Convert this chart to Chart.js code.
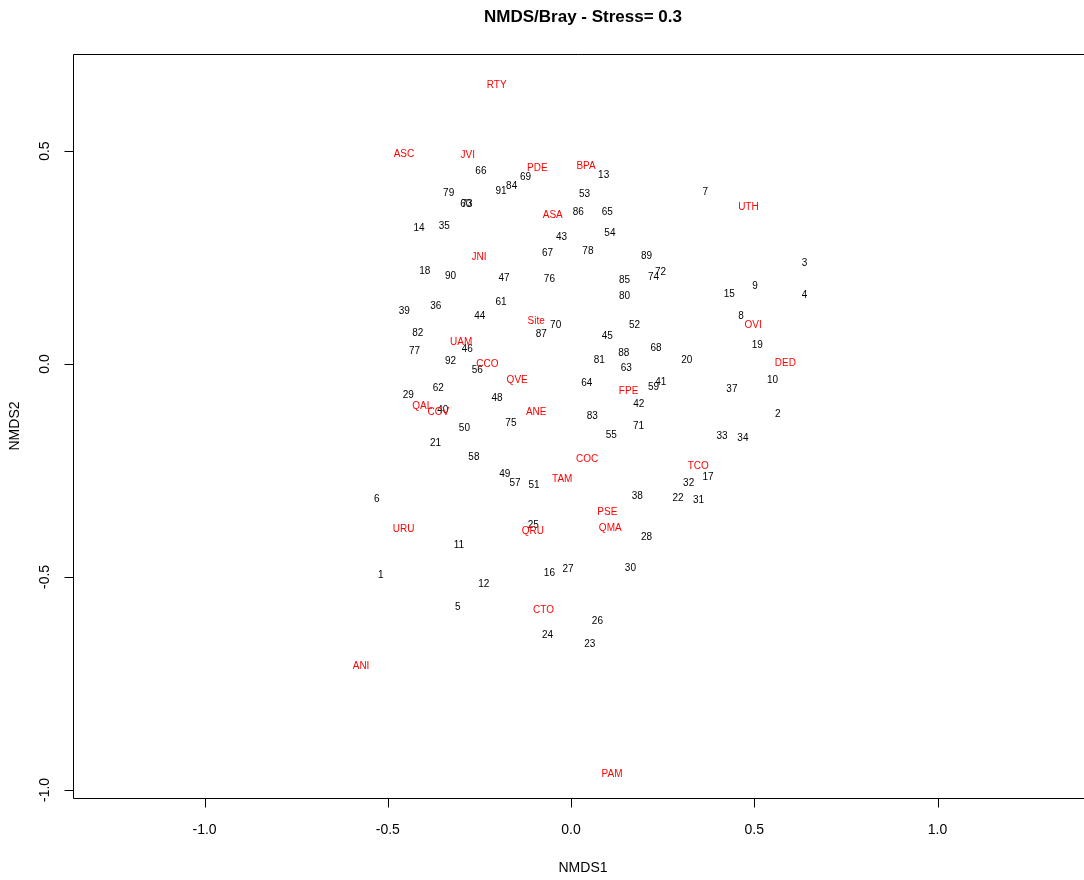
<!DOCTYPE html>
<html>
<head>
<meta charset="utf-8">
<script src="https://cdn.jsdelivr.net/npm/chart.js@4/dist/chart.umd.min.js"></script>
<style>
  html, body { margin: 0; padding: 0; background: #fff; }
  canvas { display: block; }
</style>
</head>
<body>
<canvas id="chart" width="1084" height="880"></canvas>
<script>
// site scores (numbers, black)
const siteLabels = ['1','2','3','4','5','6','7','8','9','10','11','12','13','14','15','16','17','18','19','20',
  '21','22','23','24','25','26','27','28','29','30','31','32','33','34','35','36','37','38','39','40',
  '41','42','43','44','45','46','47','48','49','50','51','52','53','54','55','56','57','58','59','60',
  '61','62','63','64','65','66','67','68','69','70','71','72','73','74','75','76','77','78','79','80',
  '81','82','83','84','85','86','87','88','89','90','91','92'];
const siteX = [-0.519, 0.564, 0.637, 0.637, -0.309, -0.530, 0.366, 0.464, 0.502, 0.550,
  -0.306, -0.238, 0.089, -0.415, 0.432, -0.059, 0.374, -0.399, 0.508, 0.316,
  -0.370, 0.292, 0.051, -0.064, -0.103, 0.072, -0.008, 0.206, -0.444, 0.162,
  0.348, 0.321, 0.412, 0.469, -0.346, -0.369, 0.439, 0.181, -0.455, -0.350,
  0.245, 0.185, -0.026, -0.249, 0.099, -0.283, -0.183, -0.202, -0.181, -0.291,
  -0.101, 0.173, 0.037, 0.106, 0.110, -0.256, -0.153, -0.265, 0.225, -0.287,
  -0.191, -0.362, 0.151, 0.043, 0.099, -0.246, -0.064, 0.232, -0.124, -0.042,
  0.184, 0.244, -0.284, 0.225, -0.164, -0.059, -0.427, 0.046, -0.334, 0.146,
  0.077, -0.418, 0.058, -0.162, 0.146, 0.020, -0.081, 0.144, 0.206, -0.329,
  -0.191, -0.329];
const siteY = [-0.493, -0.117, 0.239, 0.164, -0.570, -0.315, 0.406, 0.115, 0.185, -0.036,
  -0.423, -0.514, 0.445, 0.321, 0.166, -0.489, -0.265, 0.220, 0.045, 0.012,
  -0.185, -0.312, -0.656, -0.634, -0.376, -0.601, -0.479, -0.404, -0.071, -0.477,
  -0.317, -0.278, -0.167, -0.172, 0.326, 0.138, -0.057, -0.308, 0.126, -0.106,
  -0.041, -0.092, 0.300, 0.115, 0.067, 0.037, 0.204, -0.078, -0.257, -0.149,
  -0.282, 0.092, 0.401, 0.309, -0.165, -0.012, -0.278, -0.217, -0.052, 0.377,
  0.148, -0.054, -0.009, -0.043, 0.358, 0.455, 0.261, 0.038, 0.441, 0.094,
  -0.144, 0.218, 0.377, 0.206, -0.137, 0.200, 0.033, 0.267, 0.403, 0.162,
  0.012, 0.075, -0.120, 0.419, 0.199, 0.358, 0.073, 0.027, 0.255, 0.208,
  0.408, 0.009];

// species scores (codes, red)
const speciesLabels = ['RTY','ASC','JVI','PDE','BPA','UTH','ASA','JNI','Site','UAM','CCO','OVI','DED','QVE',
  'QAL','COV','ANE','FPE','COC','TCO','TAM','PSE','QMA','URU','QRU','CTO','ANI','PAM'];
const speciesX = [-0.203, -0.456, -0.282, -0.092, 0.041, 0.484, -0.050, -0.251, -0.095, -0.300, -0.228, 0.497, 0.585, -0.147,
  -0.406, -0.362, -0.095, 0.157, 0.044, 0.347, -0.024, 0.099, 0.107, -0.457, -0.104, -0.075, -0.573, 0.112];
const speciesY = [0.657, 0.494, 0.492, 0.462, 0.466, 0.369, 0.352, 0.253, 0.103, 0.052, 0.002, 0.094, 0.005, -0.036,
  -0.098, -0.111, -0.111, -0.062, -0.221, -0.238, -0.268, -0.346, -0.383, -0.387, -0.391, -0.577, -0.707, -0.961];

const xTicks = [-1.0, -0.5, 0.0, 0.5, 1.0];
const yTicks = [-1.0, -0.5, 0.0, 0.5];

const FONT = '"Liberation Sans", Arial, Helvetica, sans-serif';

const rPlot = {
  id: 'rPlot',
  afterDatasetsDraw(chart) {
    const ctx = chart.ctx;
    const a = chart.chartArea;
    const xs = chart.scales.x;
    const ys = chart.scales.y;
    // the R plot region runs a little past the right edge of the image
    const midX = (a.left + a.right + 10) / 2;
    ctx.save();

    // text labels for each point
    const size = 10;
    ctx.font = size + 'px ' + FONT;
    ctx.textAlign = 'center';
    ctx.textBaseline = 'alphabetic';
    chart.data.datasets.forEach((ds, i) => {
      const meta = chart.getDatasetMeta(i);
      ctx.fillStyle = ds.textColor;
      meta.data.forEach((pt, j) => {
        ctx.fillText(ds.labels[j], pt.x, pt.y + size * 0.36);
      });
    });

    // box (right side falls outside the picture)
    ctx.strokeStyle = '#000';
    ctx.lineWidth = 1;
    const L = Math.round(a.left) + 0.5, T = Math.round(a.top) + 0.5, B = Math.round(a.bottom) + 0.5;
    ctx.beginPath();
    ctx.moveTo(chart.width, T);
    ctx.lineTo(L, T);
    ctx.lineTo(L, B);
    ctx.lineTo(chart.width, B);
    ctx.stroke();

    // x axis
    ctx.beginPath();
    ctx.moveTo(xs.getPixelForValue(xTicks[0]), B);
    ctx.lineTo(xs.getPixelForValue(xTicks[xTicks.length - 1]), B);
    xTicks.forEach(v => {
      const px = Math.round(xs.getPixelForValue(v)) + 0.5;
      ctx.moveTo(px, B);
      ctx.lineTo(px, B + 9);
    });
    ctx.stroke();

    // y axis
    ctx.beginPath();
    ctx.moveTo(L, ys.getPixelForValue(yTicks[0]));
    ctx.lineTo(L, ys.getPixelForValue(yTicks[yTicks.length - 1]));
    yTicks.forEach(v => {
      const py = Math.round(ys.getPixelForValue(v)) + 0.5;
      ctx.moveTo(L, py);
      ctx.lineTo(L - 9, py);
    });
    ctx.stroke();

    // tick labels
    ctx.fillStyle = '#000';
    ctx.font = '14px ' + FONT;
    ctx.textBaseline = 'middle';
    ctx.textAlign = 'center';
    xTicks.forEach(v => {
      ctx.fillText(v.toFixed(1), xs.getPixelForValue(v), 830);
    });
    yTicks.forEach(v => {
      ctx.save();
      ctx.translate(45, ys.getPixelForValue(v));
      ctx.rotate(-Math.PI / 2);
      ctx.fillText(v.toFixed(1), 0, 0);
      ctx.restore();
    });

    // axis titles
    ctx.fillText('NMDS1', midX, 868);
    ctx.save();
    ctx.translate(15, (a.top + a.bottom) / 2);
    ctx.rotate(-Math.PI / 2);
    ctx.fillText('NMDS2', 0, 0);
    ctx.restore();

    // main title
    ctx.font = 'bold 17px ' + FONT;
    ctx.fillText('NMDS/Bray - Stress= 0.3', midX, 17);

    ctx.restore();
  }
};

new Chart(document.getElementById('chart').getContext('2d'), {
  type: 'scatter',
  data: {
    datasets: [
      {
        label: 'sites',
        labels: siteLabels,
        textColor: '#000',
        data: siteX.map((x, i) => ({ x: x, y: siteY[i] })),
        pointRadius: 0
      },
      {
        label: 'species',
        labels: speciesLabels,
        textColor: '#ff0000',
        data: speciesX.map((x, i) => ({ x: x, y: speciesY[i] })),
        pointRadius: 0
      }
    ]
  },
  options: {
    responsive: false,
    animation: false,
    events: [],
    layout: { padding: { top: 54, right: 1, left: 0, bottom: 0 } },
    plugins: {
      legend: { display: false },
      tooltip: { enabled: false },
      title: { display: false }
    },
    scales: {
      x: {
        type: 'linear',
        min: -1.359,
        max: 1.397,
        ticks: { display: false },
        grid: { display: false },
        border: { display: false },
        afterFit: s => { s.height = 82; }
      },
      y: {
        type: 'linear',
        min: -1.019,
        max: 0.728,
        ticks: { display: false },
        grid: { display: false },
        border: { display: false },
        afterFit: s => { s.width = 73; }
      }
    }
  },
  plugins: [rPlot]
});
</script>
</body>
</html>
